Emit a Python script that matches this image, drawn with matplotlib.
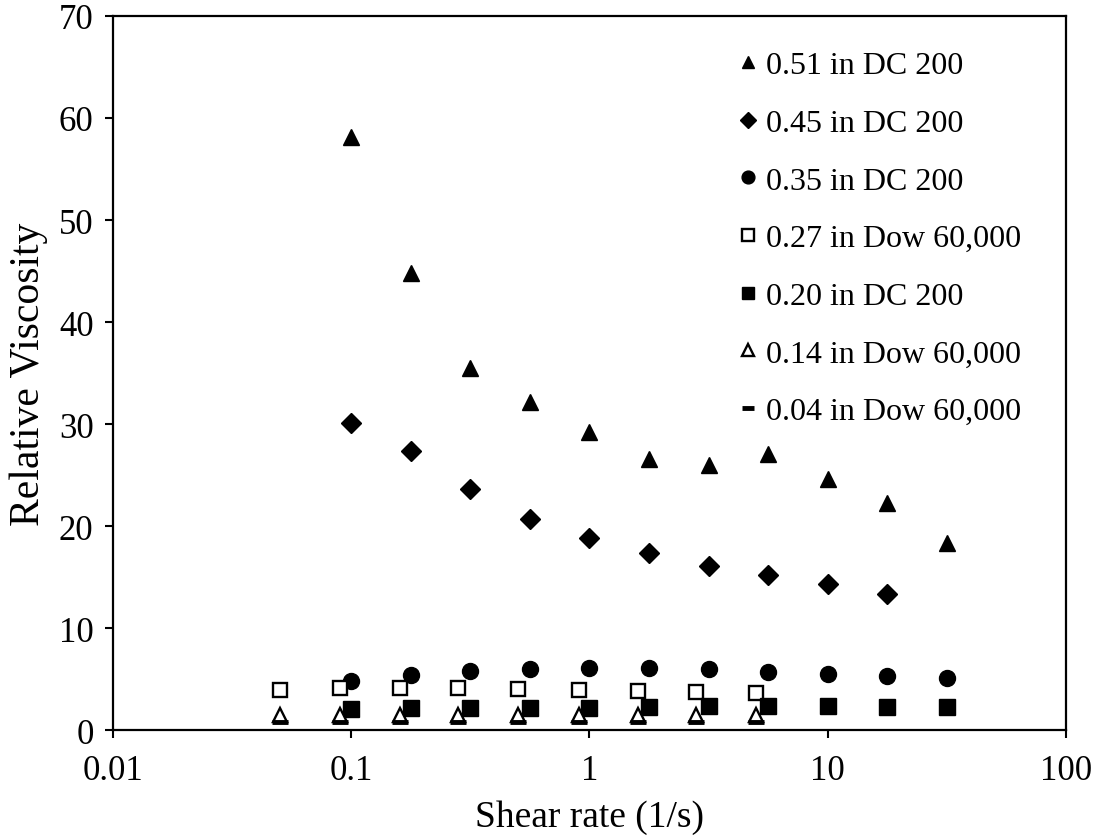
import numpy as np
import matplotlib
matplotlib.use('Agg')
import matplotlib.pyplot as plt
from matplotlib.ticker import FixedLocator, FuncFormatter, NullLocator

plt.rcParams['font.family'] = ['Liberation Serif', 'DejaVu Serif']

# Datos
shear_dc = [0.1, 0.178, 0.316, 0.562, 1, 1.78, 3.16, 5.62, 10, 17.8, 31.6]
visc_051 = [58.1, 44.8, 35.5, 32.2, 29.2, 26.6, 26.0, 27.1, 24.6, 22.3, 18.3]
visc_035 = [4.83, 5.39, 5.78, 5.95, 6.05, 6.05, 6.01, 5.72, 5.49, 5.33, 5.13]
visc_020 = [2.06, 2.16, 2.13, 2.13, 2.13, 2.29, 2.39, 2.39, 2.32, 2.29, 2.29]
shear_045 = [0.1, 0.178, 0.316, 0.562, 1, 1.78, 3.16, 5.62, 10, 17.8]
visc_045 = [30.1, 27.4, 23.6, 20.7, 18.8, 17.4, 16.1, 15.2, 14.3, 13.3]

shear_dow = [0.05, 0.09, 0.16, 0.28, 0.5, 0.9, 1.6, 2.8, 5]
visc_027 = [3.95, 4.09, 4.09, 4.09, 4.02, 3.95, 3.82, 3.76, 3.63]
visc_014 = [1.45, 1.45, 1.45, 1.45, 1.45, 1.45, 1.45, 1.45, 1.45]
visc_004 = [0.8, 0.8, 0.8, 0.8, 0.8, 0.8, 0.8, 0.8, 0.8]

x_ticks = [0.01, 0.1, 1, 10, 100]
y_ticks = [0, 10, 20, 30, 40, 50, 60, 70]

fig = plt.figure(figsize=(10.97, 8.37), dpi=100)
ax = fig.add_axes([0.103, 0.1266, 0.8687, 0.8531])

ax.plot(shear_dc, visc_051, '^', color='black', ms=11.5, label='0.51 in DC 200')
ax.plot(shear_045, visc_045, 'D', color='black', ms=10, label='0.45 in DC 200')
ax.plot(shear_dc, visc_035, 'o', color='black', ms=11.5, label='0.35 in DC 200')
ax.plot(shear_dow, visc_027, 's', mfc='white', mec='black', mew=1.7, ms=10,
        label='0.27 in Dow 60,000')
ax.plot(shear_dc, visc_020, 's', color='black', ms=11.5, label='0.20 in DC 200')
ax.plot(shear_dow, visc_014, '^', mfc='white', mec='black', mew=1.7, ms=10,
        label='0.14 in Dow 60,000')
ax.plot(shear_dow, visc_004, '_', color='black', mew=3.5, ms=11.5,
        label='0.04 in Dow 60,000')

ax.set_xscale('log')
ax.set_xlim(0.01, 100)
ax.set_ylim(0, 70)
ax.xaxis.set_major_locator(FixedLocator(x_ticks))
ax.xaxis.set_minor_locator(NullLocator())
ax.xaxis.set_major_formatter(FuncFormatter(lambda v, p: '%g' % v))
ax.yaxis.set_major_locator(FixedLocator(y_ticks))

for s in ax.spines.values():
    s.set_linewidth(1.6)
ax.tick_params(direction='out', length=6, width=1.5, labelsize=25)
ax.tick_params(axis='x', pad=11)
ax.tick_params(axis='y', pad=8)

ax.set_xlabel('Shear rate (1/s)', fontsize=27, labelpad=9)
ax.set_ylabel('Relative Viscosity', fontsize=30, labelpad=8)

ax.legend(loc='upper left', bbox_to_anchor=(0.655, 0.951), frameon=False,
          fontsize=23, markerscale=0.8, handlelength=0.65, handletextpad=0.25,
          labelspacing=0.885, borderaxespad=0, borderpad=0)

plt.savefig('out.png', dpi=100)
